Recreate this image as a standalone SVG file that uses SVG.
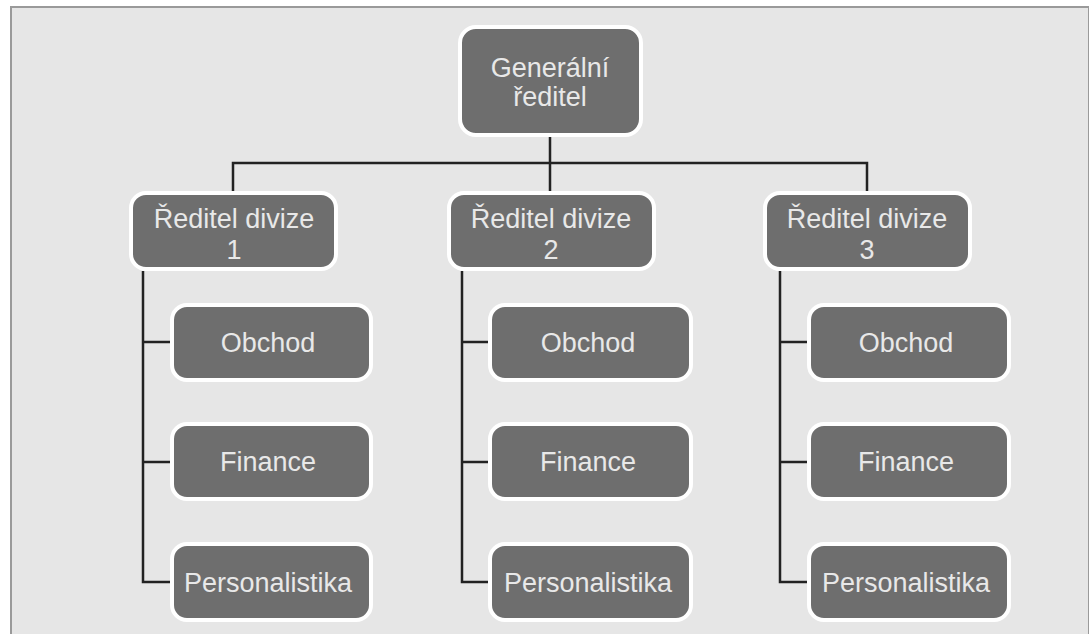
<svg xmlns="http://www.w3.org/2000/svg" width="1089" height="634" viewBox="0 0 1089 634">
<style>
.box{fill:#6e6e6e;stroke:#ffffff;stroke-width:4}
.t{font-family:"Liberation Sans",Arial,sans-serif;font-size:27px;fill:#e8e8e8;text-anchor:middle}
.c{fill:none;stroke:#222222;stroke-width:2.5}
</style>
<rect x="0" y="0" width="1089" height="634" fill="#ffffff"/>
<rect x="11" y="7" width="1078" height="630" fill="#e6e6e6" stroke="#9a9a9a" stroke-width="2"/>
<g id="connectors">
<path class="c" d="M550 137V191M233 191V163H867V191"/>
<path class="c" d="M143 271V582H172M143 342H172M143 462H172"/>
<path class="c" d="M462 271V582H490M462 342H490M462 462H490"/>
<path class="c" d="M780 271V582H809M780 342H809M780 462H809"/>
</g>
<g id="gen"><rect class="box" x="460" y="27" width="181" height="108" rx="16"/><text class="t" x="550" y="77">Generální</text><text class="t" x="550" y="106">ředitel</text></g>
<g id="div1"><rect class="box" x="131" y="193" width="205" height="76" rx="15"/><text class="t" x="234" y="228">Ředitel divize</text><text class="t" x="234" y="259">1</text></g>
<g id="div2"><rect class="box" x="449" y="193" width="205" height="76" rx="15"/><text class="t" x="551" y="228">Ředitel divize</text><text class="t" x="551" y="259">2</text></g>
<g id="div3"><rect class="box" x="765" y="193" width="205" height="76" rx="15"/><text class="t" x="867" y="228">Ředitel divize</text><text class="t" x="867" y="259">3</text></g>
<g id="obchod1"><rect class="box" x="172" y="305" width="199" height="75" rx="15"/><text class="t" x="268" y="352">Obchod</text></g>
<g id="finance1"><rect class="box" x="172" y="424" width="199" height="75" rx="15"/><text class="t" x="268" y="471">Finance</text></g>
<g id="pers1"><rect class="box" x="172" y="544" width="199" height="76" rx="15"/><text class="t" x="268" y="592">Personalistika</text></g>
<g id="obchod2"><rect class="box" x="490" y="305" width="201" height="75" rx="15"/><text class="t" x="588" y="352">Obchod</text></g>
<g id="finance2"><rect class="box" x="490" y="424" width="201" height="75" rx="15"/><text class="t" x="588" y="471">Finance</text></g>
<g id="pers2"><rect class="box" x="490" y="544" width="201" height="76" rx="15"/><text class="t" x="588" y="592">Personalistika</text></g>
<g id="obchod3"><rect class="box" x="809" y="305" width="200" height="75" rx="15"/><text class="t" x="906" y="352">Obchod</text></g>
<g id="finance3"><rect class="box" x="809" y="424" width="200" height="75" rx="15"/><text class="t" x="906" y="471">Finance</text></g>
<g id="pers3"><rect class="box" x="809" y="544" width="200" height="76" rx="15"/><text class="t" x="906" y="592">Personalistika</text></g>
</svg>
